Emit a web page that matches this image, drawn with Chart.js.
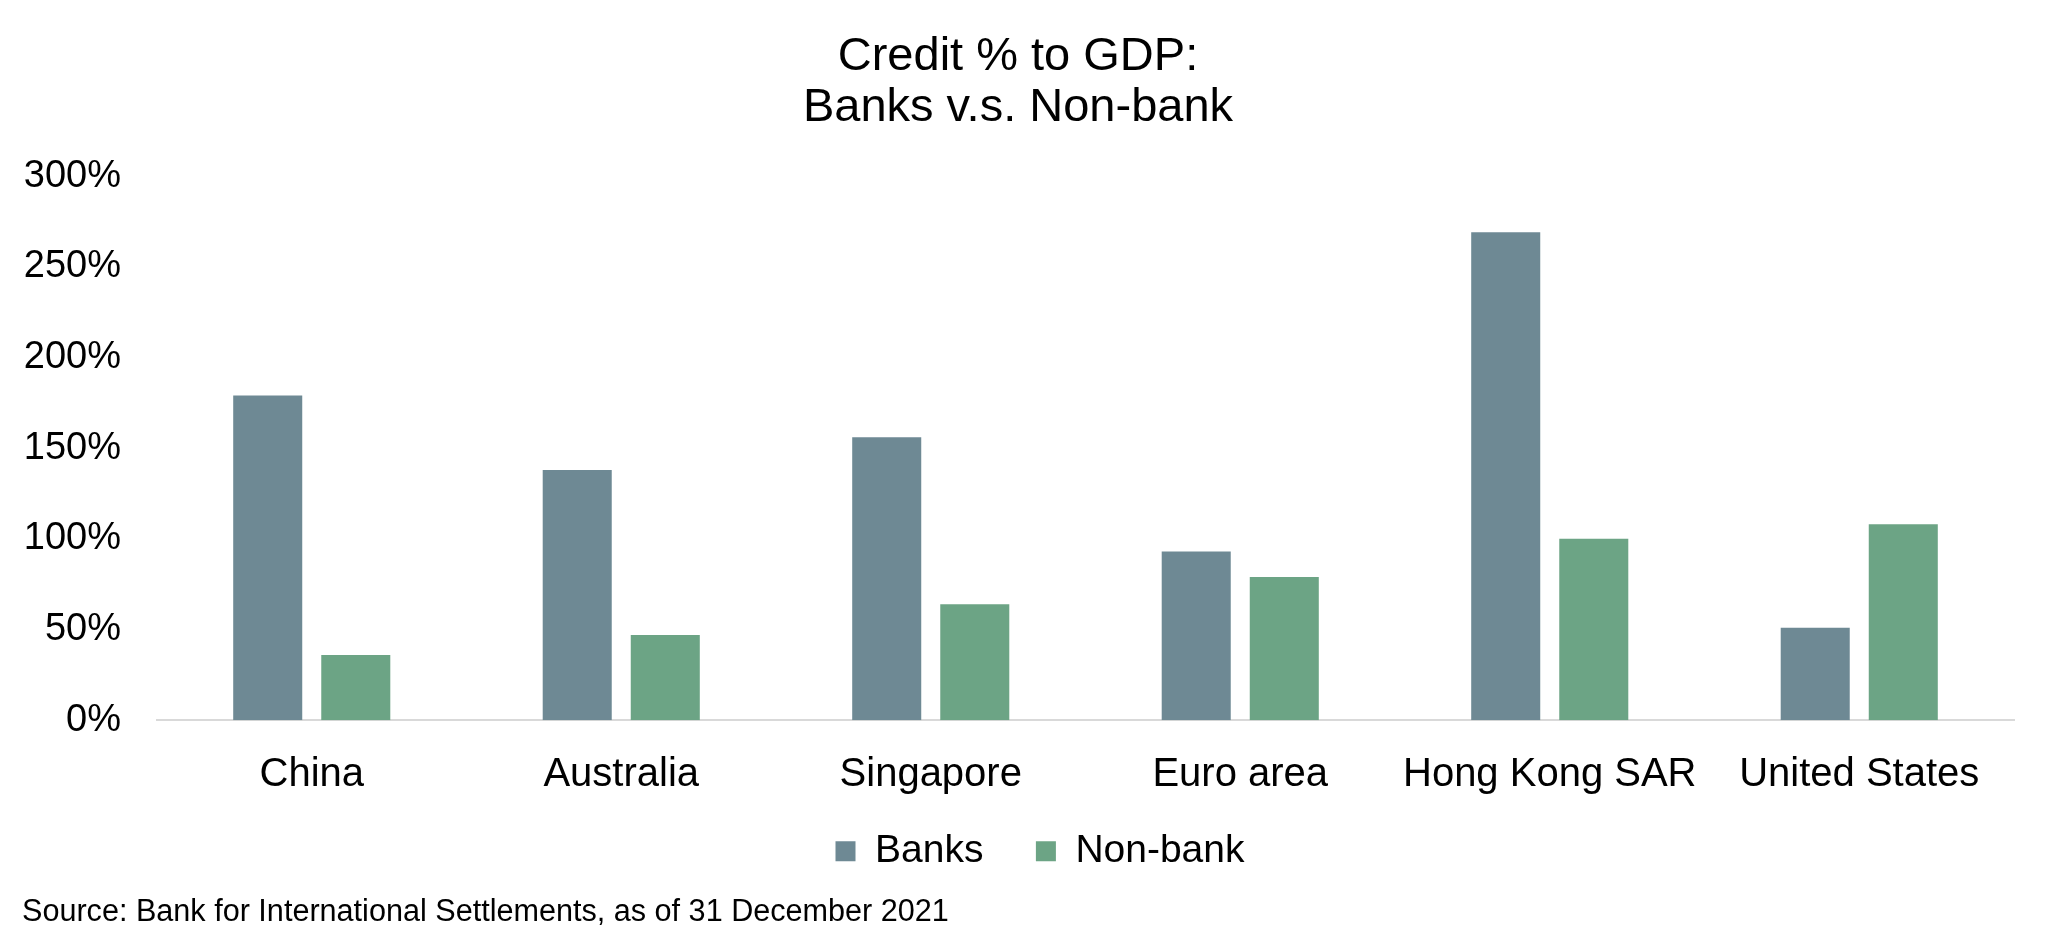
<!DOCTYPE html>
<html lang="en">
<head>
  <meta charset="UTF-8" />
  <title>Credit % to GDP: Banks v.s. Non-bank</title>
  <script src="https://cdn.jsdelivr.net/npm/chart.js"></script>
  <style>
    html, body { margin: 0; padding: 0; background: #fff; }
    #chart { display: block; }
  </style>
</head>
<body>
  <canvas id="chart" width="2048" height="948"></canvas>

  <script>
    // ── data ───────────────────────────────────────────────────
    const categories = ['China', 'Australia', 'Singapore', 'Euro area', 'Hong Kong SAR', 'United States'];
    const banks      = [179, 138, 156, 93, 269, 51];
    const nonBank    = [36, 47, 64, 79, 100, 108];
    const yTicks     = [0, 50, 100, 150, 200, 250, 300];

    const FONT = "'Liberation Sans', Arial, sans-serif";
    Chart.defaults.font.family = FONT;
    Chart.defaults.color = '#000';

    // legend: wide gap between items, but a compact box; nudge it into place
    const legendTweak = {
      id: 'legendTweak',
      beforeLayout(chart) {
        const lg = chart.legend;
        if (lg && !lg._tweaked) {
          const fit = lg.fit;
          lg.fit = function () { fit.call(this); this.height = 75; };
          lg._tweaked = true;
        }
      },
      afterLayout(chart) {
        const lg = chart.legend;
        lg.left += 22;
        lg.right += 22;
        lg.top -= 21;
        lg.bottom = lg.top + 120;   // legend clips its drawing to this box
      }
    };

    new Chart(document.getElementById('chart'), {
      type: 'bar',
      data: {
        labels: categories,
        datasets: [
          { label: 'Banks', data: banks, backgroundColor: '#6e8994' },
          { label: 'Non-bank', data: nonBank, backgroundColor: '#6ca485' }
        ]
      },
      options: {
        responsive: false,
        animation: false,
        layout: { padding: { left: 22, right: 34, top: 0, bottom: 0 } },
        datasets: {
          bar: { categoryPercentage: 0.569, barPercentage: 0.784 }
        },
        scales: {
          x: {
            grid: { display: false, drawTicks: false },
            border: { display: true, color: '#d9d9d9', width: 2 },
            ticks: { font: { size: 40 }, padding: 31, maxRotation: 0 },
            afterFit: s => { s.height = 80; }
          },
          y: {
            min: 0,
            max: 300,
            grid: { display: false, drawTicks: false },
            border: { display: false },
            afterBuildTicks: s => { s.ticks = yTicks.map(v => ({ value: v })); },
            ticks: {
              font: { size: 38 },
              padding: 36,
              callback: v => v + '%'
            },
            afterFit: s => { s.width = 135; }
          }
        },
        plugins: {
          title: {
            display: true,
            text: ['Credit % to GDP:', 'Banks v.s. Non-bank'],
            font: { size: 47, weight: 'normal', lineHeight: 1.08 },
            color: '#000',
            padding: { top: 32, bottom: 42.5 }
          },
          legend: {
            position: 'bottom',
            labels: {
              font: { size: 39 },
              boxWidth: 20,
              boxHeight: 20,
              padding: 52.5
            }
          },
          subtitle: {
            display: true,
            position: 'bottom',
            align: 'start',
            text: 'Source: Bank for International Settlements, as of 31 December 2021',
            font: { size: 30.6, weight: 'normal', lineHeight: 1.2 },
            color: '#000',
            padding: { top: 19, bottom: 17 }
          },
          tooltip: { enabled: false }
        }
      },
      plugins: [legendTweak]
    });
  </script>
</body>
</html>
